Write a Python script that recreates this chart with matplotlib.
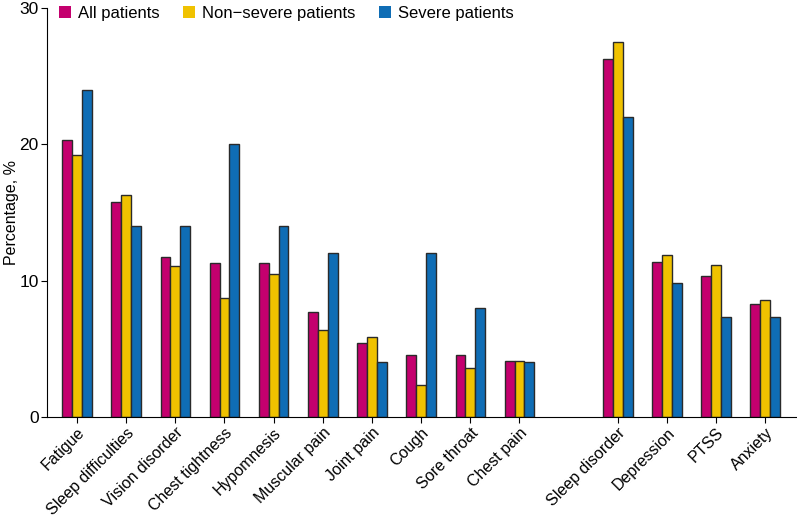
import numpy as np
import matplotlib.pyplot as plt
from matplotlib.patches import Patch

plt.rcParams['font.family'] = ['Liberation Sans', 'DejaVu Sans']

# Symptom categories (gap between physical and mental groups)
categories = ['Fatigue', 'Sleep difficulties', 'Vision disorder', 'Chest tightness',
              'Hypomnesis', 'Muscular pain', 'Joint pain', 'Cough', 'Sore throat',
              'Chest pain', 'Sleep disorder', 'Depression', 'PTSS', 'Anxiety']
positions = [0, 1, 2, 3, 4, 5, 6, 7, 8, 9, 11, 12, 13, 14]

all_patients = [20.3, 15.8, 11.75, 11.3, 11.3, 7.7, 5.45, 4.55, 4.55, 4.1,
                26.3, 11.35, 10.35, 8.25]
non_severe = [19.2, 16.3, 11.1, 8.75, 10.5, 6.4, 5.85, 2.35, 3.55, 4.1,
              27.5, 11.85, 11.15, 8.55]
severe = [24.0, 14.0, 14.0, 20.0, 14.0, 12.0, 4.05, 12.0, 8.0, 4.0,
          22.0, 9.85, 7.35, 7.35]

series = ['All patients', 'Non\u2212severe patients', 'Severe patients']
colors = ['#C4006E', '#F0C200', '#0F6DB5']

fig = plt.figure(figsize=(7.97, 5.19), dpi=100)
ax = fig.add_axes([0.059, 0.197, 0.94, 0.787])

x = np.array(positions)
w = 0.2
for i, (vals, c) in enumerate(zip([all_patients, non_severe, severe], colors)):
    ax.bar(x + (i - 1) * w, vals, width=w, color=c, edgecolor='#2a2a2a', linewidth=1.0)

ax.set_xlim(-0.61, 14.63)
ax.set_ylim(0, 30)
ax.set_yticks([0, 10, 20, 30])
ax.set_xticks(positions)
ax.set_xticklabels(categories, rotation=45, ha='right', rotation_mode='anchor', fontsize=11.5)
ax.tick_params(axis='y', labelsize=12.5, length=4, pad=2)
ax.tick_params(axis='x', length=4, pad=2)
ax.set_ylabel('Percentage, %', fontsize=11.5)
ax.yaxis.set_label_coords(-0.037, 0.5)

for s in ['top', 'right']:
    ax.spines[s].set_visible(False)

handles = [Patch(facecolor=c, edgecolor='none') for c in colors]
ax.legend(handles, series, loc='upper left', bbox_to_anchor=(0.0, 1.035), ncol=3,
          frameon=False, fontsize=12, handlelength=0.75, handleheight=0.75,
          handletextpad=0.4, columnspacing=1.4, borderaxespad=0.3)

fig.savefig('out.png', dpi=100)
